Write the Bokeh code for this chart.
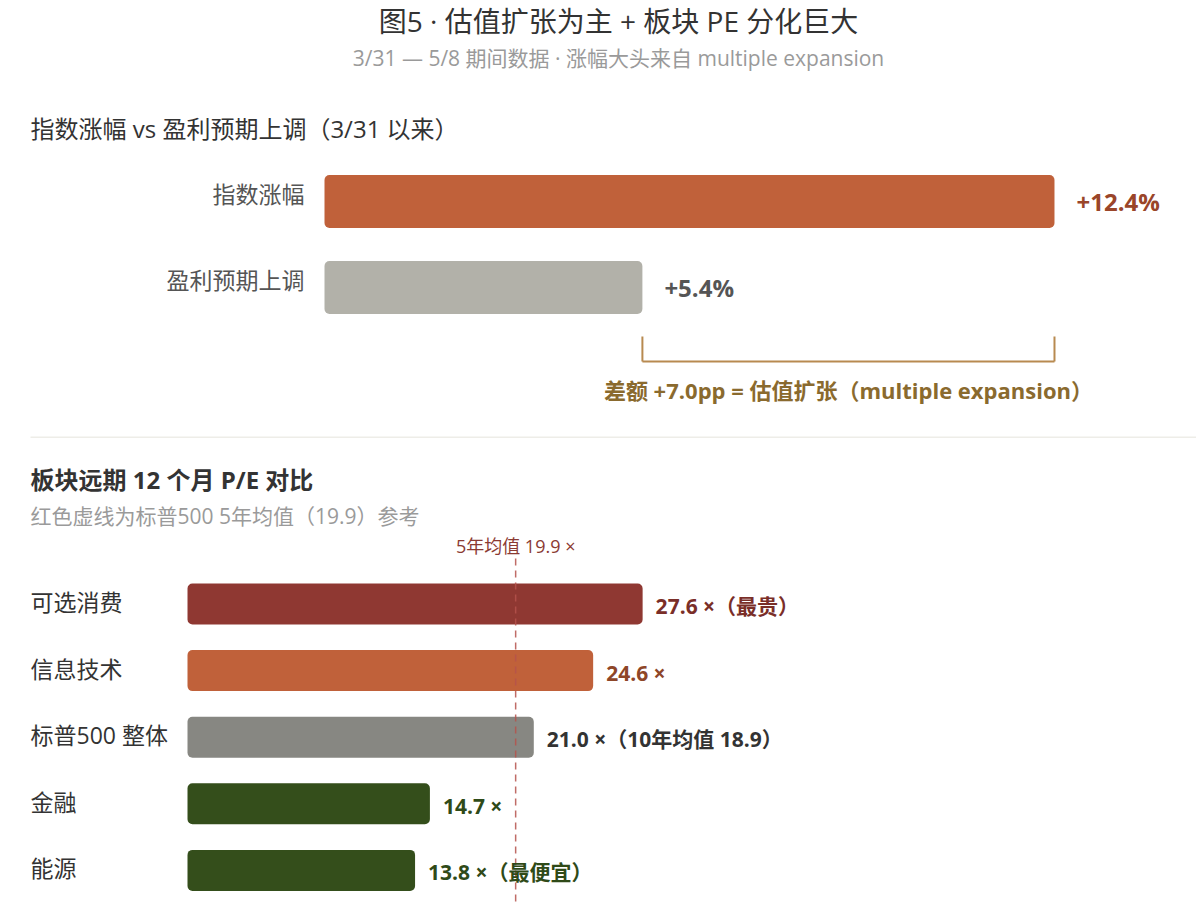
from bokeh.plotting import figure
from bokeh.models import Range1d, ColumnDataSource
from bokeh.layouts import column
from bokeh.embed import file_html
from bokeh.resources import INLINE
from bokeh.core.properties import value

# ---------------- data ----------------
title_main = "图5 · 估值扩张为主 + 板块 PE 分化巨大"
title_sub = "3/31 — 5/8 期间数据 · 涨幅大头来自 multiple expansion"

top_title = "指数涨幅 vs 盈利预期上调（3/31 以来）"
top_cats = ["指数涨幅", "盈利预期上调"]
top_vals = [12.4, 5.4]
top_colors = ["#c0613a", "#b2b1a9"]
top_label_colors = ["#9a4529", "#555555"]

bot_title = "板块远期 12 个月 P/E 对比"
bot_sub = "红色虚线为标普500 5年均值（19.9）参考"
bot_cats = ["可选消费", "信息技术", "标普500 整体", "金融", "能源"]
bot_vals = [27.6, 24.6, 21.0, 14.7, 13.8]
bot_notes = ["（最贵）", "", "（10年均值 18.9）", "", "（最便宜）"]
bot_colors = ["#8f3832", "#c0613a", "#878782", "#344e1b", "#344e1b"]
bot_label_colors = ["#7a2e28", "#8e4628", "#333333", "#2f4a18", "#2f4a18"]
avg5 = 19.9

FONT = value("'Open Sans', 'Noto Sans CJK SC', sans-serif")
W = 1196
OX, OY = 0, 0  # page offset of the layout

# ---------------- top panel ----------------
H1 = 438
T_ZERO, T_SCALE = 324.0, 58.87
T_Y0, T_STEP = 201.0, 86.0
def tx(px):
    return (px - T_ZERO) / T_SCALE
def ty(py):
    return (py - T_Y0) / T_STEP

p1 = figure(width=W, height=H1, output_backend="svg", toolbar_location=None,
            x_range=Range1d(tx(OX), tx(OX + W)), y_range=Range1d(ty(OY + H1), ty(OY)),
            x_axis_location=None, y_axis_location=None, min_border=0,
            outline_line_color=None)
p1.xgrid.visible = False
p1.ygrid.visible = False

idx_top = list(range(len(top_cats)))
src1 = ColumnDataSource(dict(y=idx_top, v=top_vals, c=top_colors))
p1.hbar(y="y", left=0, right="v", height=0.616, fill_color="c", line_color=None,
        border_radius=5, source=src1)

# category labels
p1.text(x=tx(304), y=[i - 0.09 for i in idx_top], text=top_cats, text_align="right",
        text_baseline="middle", text_font=FONT, text_font_size="23px", text_color="#555555")
# value labels
for i, v in enumerate(top_vals):
    p1.text(x=[v], y=[i], text=[f"+{v:.1f}%"], x_offset=22, text_align="left",
            text_baseline="middle", text_font=FONT, text_font_size="24px",
            text_color=top_label_colors[i], text_font_style="bold")

# bracket
lo, hi = min(top_vals), max(top_vals)
BR = "#b88a50"
p1.segment(x0=[lo, hi, lo], x1=[lo, hi, hi], y0=[ty(336), ty(336), ty(361)],
           y1=[ty(361), ty(361), ty(361)], line_color=BR, line_width=2)
p1.text(x=[(lo + hi) / 2], y=[ty(389)],
        text=[f"差额 +{hi - lo:.1f}pp = 估值扩张（multiple expansion）"],
        text_align="center", text_baseline="middle", text_font=FONT,
        text_font_size="22px", text_font_style="bold", text_color="#8a6a2e")

# titles
p1.text(x=[tx(618)], y=[ty(20)], text=[title_main], text_align="center",
        text_baseline="middle", text_font=FONT, text_font_size="28px",
        text_color="#333333")
p1.text(x=[tx(618)], y=[ty(57)], text=[title_sub], text_align="center",
        text_baseline="middle", text_font=FONT, text_font_size="21px",
        text_color="#9a9a9a")
p1.text(x=[tx(30)], y=[ty(128)], text=[top_title], text_align="left",
        text_baseline="middle", text_font=FONT, text_font_size="24px",
        text_color="#333333")

# separator
p1.segment(x0=[tx(30)], x1=[tx(1204)], y0=[ty(437)], y1=[ty(437)],
           line_color="#eeede8", line_width=2)

# ---------------- bottom panel ----------------
H2 = 466
B_ZERO, B_SCALE = 187.0, 16.49
B_Y0, B_STEP = 603.5, 66.6
def bx(px):
    return (px - B_ZERO) / B_SCALE
def by(py):
    return (py - B_Y0) / B_STEP

p2 = figure(width=W, height=H2, output_backend="svg", toolbar_location=None,
            x_range=Range1d(bx(OX), bx(OX + W)),
            y_range=Range1d(by(OY + H1 + H2), by(OY + H1)),
            x_axis_location=None, y_axis_location=None, min_border=0,
            outline_line_color=None)
p2.xgrid.visible = False
p2.ygrid.visible = False

idx_bot = list(range(len(bot_cats)))
src2 = ColumnDataSource(dict(y=idx_bot, v=bot_vals, c=bot_colors))
p2.hbar(y="y", left=0, right="v", height=0.616, fill_color="c", line_color=None,
        border_radius=5, source=src2)

# dashed 5y average line
p2.segment(x0=[avg5], x1=[avg5], y0=[by(558)], y1=[by(904)], line_color="#b5524c",
           line_alpha=0.85, line_width=1.5, line_dash="7 5")
p2.text(x=[avg5], y=[by(545)], text=[f"5年均值 {avg5:.1f} ×"], text_align="center",
        text_baseline="middle", text_font=FONT, text_font_size="18px",
        text_color="#8b3a32")

# category labels
p2.text(x=bx(30), y=[i - 0.03 for i in idx_bot], text=bot_cats, text_align="left",
        text_baseline="middle", text_font=FONT, text_font_size="23px", text_color="#333333")
# value labels
for i, v in enumerate(bot_vals):
    p2.text(x=[v], y=[i + 0.03], text=[f"{v:.1f} ×{bot_notes[i]}"], x_offset=13,
            text_align="left", text_baseline="middle", text_font=FONT,
            text_font_size="21px", text_font_style="bold", text_color=bot_label_colors[i])

# titles
p2.text(x=[bx(30)], y=[by(479)], text=[bot_title], text_align="left",
        text_baseline="middle", text_font=FONT, text_font_size="24px",
        text_font_style="bold", text_color="#333333")
p2.text(x=[bx(30)], y=[by(515)], text=[bot_sub], text_align="left",
        text_baseline="middle", text_font=FONT, text_font_size="21px",
        text_color="#9a9a9a")

layout = column(p1, p2, spacing=0)
open("out.html", "w").write(file_html(layout, INLINE))
